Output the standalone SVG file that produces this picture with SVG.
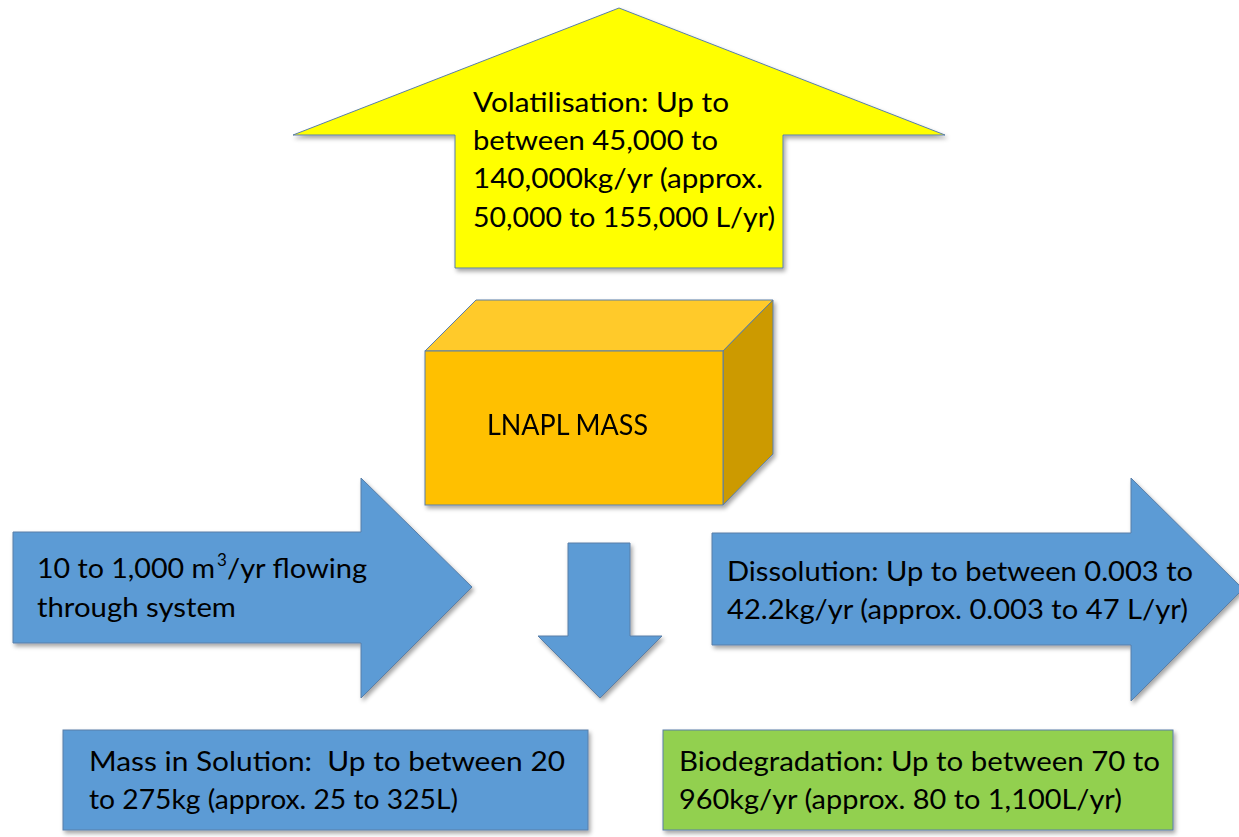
<svg xmlns="http://www.w3.org/2000/svg" width="1239" height="837" viewBox="0 0 1239 837">
  <defs>
    <filter id="shadow" x="-10%" y="-10%" width="125%" height="130%">
      <feDropShadow dx="2" dy="3" stdDeviation="2" flood-color="#000" flood-opacity="0.35"/>
    </filter>
  </defs>
  <style>
    .shape { stroke: #5a7fa8; stroke-width: 1; filter: url(#shadow); }
    .blue { fill: #5b9bd5; }
    .yellow { fill: #ffff00; }
    .green { fill: #92d050; }
    .label { font-family: Lato, "Open Sans", "Liberation Sans", sans-serif; font-size: 26px; fill: #000; }
    .sup { font-family: Lato, "Open Sans", "Liberation Sans", sans-serif; font-size: 17px; fill: #000; }
  </style>
  <rect width="1239" height="837" fill="#ffffff"/>

  <!-- Volatilisation: upward arrow -->
  <g id="volatilisation">
    <polygon class="shape yellow" points="619,8 945,135 783,135 783,268 455,268 455,135 293,135"/>
    <text class="label" x="473" y="112" textLength="256" lengthAdjust="spacingAndGlyphs">Volatilisation: Up to</text>
    <text class="label" x="473" y="150" textLength="245" lengthAdjust="spacingAndGlyphs">between 45,000 to</text>
    <text class="label" x="473" y="188" textLength="290" lengthAdjust="spacingAndGlyphs">140,000kg/yr (approx.</text>
    <text class="label" x="473" y="227" textLength="302" lengthAdjust="spacingAndGlyphs">50,000 to 155,000 L/yr)</text>
  </g>

  <!-- LNAPL mass block -->
  <g id="lnapl-mass" filter="url(#shadow)">
    <polygon points="425,351 476,300 773,300 723,351" fill="#ffca2c" stroke="#5a7fa8" stroke-width="1"/>
    <polygon points="723,351 773,300 773,454 723,505" fill="#cc9a00" stroke="#5a7fa8" stroke-width="1"/>
    <rect x="425" y="351" width="298" height="154" fill="#ffc000" stroke="#5a7fa8" stroke-width="1"/>
    <text class="label" x="487" y="435" font-size="28" style="font-size:28px" textLength="161" lengthAdjust="spacingAndGlyphs">LNAPL MASS</text>
  </g>

  <!-- Inflow arrow -->
  <g id="inflow">
    <polygon class="shape blue" points="13,532 361,532 361,478 472,587 361,698 361,643 13,643"/>
    <text class="label" x="37" y="578" textLength="178" lengthAdjust="spacingAndGlyphs">10 to 1,000 m</text>
    <text class="sup" x="217" y="566">3</text>
    <text class="label" x="227" y="578" textLength="140" lengthAdjust="spacingAndGlyphs">/yr flowing</text>
    <text class="label" x="37" y="617" textLength="199" lengthAdjust="spacingAndGlyphs">through system</text>
  </g>

  <!-- Down arrow towards mass in solution -->
  <g id="to-solution">
    <polygon class="shape blue" points="568,543 630,543 630,636 662,636 600,698 538,636 568,636"/>
  </g>

  <!-- Dissolution arrow -->
  <g id="dissolution">
    <polygon class="shape blue" points="712,533 1131,533 1131,478 1243,589 1131,701 1131,645 712,645"/>
    <text class="label" x="727" y="581" textLength="466" lengthAdjust="spacingAndGlyphs">Dissolution: Up to between 0.003 to</text>
    <text class="label" x="727" y="619" textLength="461" lengthAdjust="spacingAndGlyphs">42.2kg/yr (approx. 0.003 to 47 L/yr)</text>
  </g>

  <!-- Mass in solution -->
  <g id="mass-in-solution">
    <rect class="shape blue" x="63" y="730" width="525" height="100"/>
    <text class="label" x="89" y="771" textLength="476" lengthAdjust="spacingAndGlyphs" xml:space="preserve">Mass in Solution:  Up to between 20</text>
    <text class="label" x="89" y="809" textLength="369" lengthAdjust="spacingAndGlyphs">to 275kg (approx. 25 to 325L)</text>
  </g>

  <!-- Biodegradation -->
  <g id="biodegradation">
    <rect class="shape green" x="663" y="730" width="510" height="100"/>
    <text class="label" x="679" y="771" textLength="481" lengthAdjust="spacingAndGlyphs">Biodegradation: Up to between 70 to</text>
    <text class="label" x="679" y="809" textLength="443" lengthAdjust="spacingAndGlyphs">960kg/yr (approx. 80 to 1,100L/yr)</text>
  </g>

  <!-- no separate connectors: the arrows are the flows themselves -->
  <g id="connectors"/>
</svg>
